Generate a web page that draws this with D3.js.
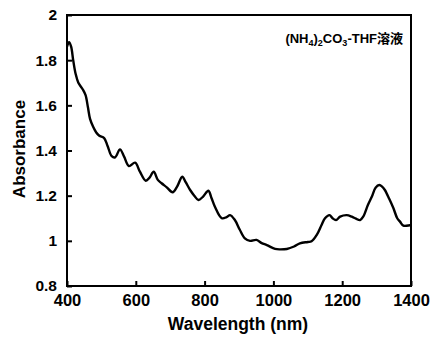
<!DOCTYPE html>
<html><head><meta charset="utf-8">
<script src="https://cdn.jsdelivr.net/npm/d3@7"></script>
<style>body{margin:0;background:#fff}svg{display:block}text{font-family:"Liberation Sans",Arial,sans-serif;font-weight:bold;fill:#000}</style>
</head><body>
<script>
const wavelength = [400,406,412,418,425,433,446,454,461,467,476,485,494,508,518,530,540,554,566,580,598,612,629,640,652,664,675,690,707,720,735,745,758,770,782,795,811,820,830,850,864,874,888,902,917,932,951,966,981,1005,1019,1039,1060,1077,1100,1111,1126,1140,1150,1163,1172,1182,1194,1213,1228,1240,1252,1261,1275,1286,1297,1308,1316,1324,1337,1349,1360,1368,1378,1397,1400];
const absorbance = [1.86,1.88,1.86,1.80,1.74,1.70,1.67,1.645,1.59,1.54,1.505,1.48,1.465,1.455,1.42,1.375,1.37,1.405,1.373,1.331,1.346,1.306,1.266,1.28,1.306,1.27,1.255,1.237,1.215,1.24,1.284,1.26,1.225,1.20,1.181,1.195,1.222,1.19,1.151,1.10,1.105,1.114,1.092,1.05,1.011,1.00,1.004,0.99,0.981,0.964,0.962,0.964,0.975,0.989,0.995,0.998,1.026,1.07,1.10,1.114,1.10,1.092,1.107,1.114,1.107,1.098,1.092,1.107,1.16,1.195,1.235,1.247,1.24,1.225,1.185,1.144,1.10,1.085,1.067,1.069,1.069];
const xTicks = [400,600,800,1000,1200,1400];
const yTicks = [0.8,1,1.2,1.4,1.6,1.8,2];
const xTitle = "Wavelength (nm)";
const yTitle = "Absorbance";

const W = 432, H = 338;
const m = {l:67, r:411, t:15, b:286};
const svg = d3.select("body").append("svg").attr("width", W).attr("height", H);
const x = d3.scaleLinear().domain([400,1400]).range([m.l, m.r]);
const y = d3.scaleLinear().domain([0.8,2]).range([m.b, m.t]);

svg.append("rect").attr("x", m.l).attr("y", m.t).attr("width", m.r-m.l).attr("height", m.b-m.t)
  .attr("fill","none").attr("stroke","#000").attr("stroke-width",2);

const xa = svg.append("g").attr("transform", `translate(0,${m.b})`)
  .call(d3.axisBottom(x).tickValues(xTicks).tickSizeInner(-5).tickSizeOuter(0).tickPadding(10).tickFormat(d3.format("d")));
xa.select(".domain").remove();
xa.selectAll("line").attr("stroke","#000").attr("stroke-width",2);
xa.selectAll("text").attr("font-size",16.5).attr("font-family","Liberation Sans").attr("font-weight","bold").attr("dy",null).attr("y",20);

const ya = svg.append("g").attr("transform", `translate(${m.l},0)`)
  .call(d3.axisLeft(y).tickValues(yTicks).tickSizeInner(-5).tickSizeOuter(0).tickPadding(10).tickFormat(d => d3.format("")(+d.toFixed(1))));
ya.select(".domain").remove();
ya.selectAll("line").attr("stroke","#000").attr("stroke-width",2);
ya.selectAll("text").attr("font-size",15.5).attr("font-family","Liberation Sans").attr("font-weight","bold").attr("x",-10);

const data = wavelength.map((w,i)=>({w, a:absorbance[i]}));
svg.append("path").datum(data)
  .attr("d", d3.line().x(d=>x(d.w)).y(d=>y(d.a)).curve(d3.curveCatmullRom))
  .attr("fill","none").attr("stroke","#000").attr("stroke-width",2.4).attr("stroke-linejoin","round");

svg.append("text").attr("x", 238).attr("y", 330).attr("text-anchor","middle").attr("font-size",17.5).text(xTitle);
svg.append("text").attr("transform","translate(25,149) rotate(-90)").attr("text-anchor","middle").attr("font-size",17).text(yTitle);

const lab = svg.append("text").attr("x", 403).attr("y", 43).attr("text-anchor","end").attr("font-size",13);
lab.append("tspan").text("(NH");
lab.append("tspan").attr("font-size",9).attr("dy",3).text("4");
lab.append("tspan").attr("dy",-3).text(")");
lab.append("tspan").attr("font-size",9).attr("dy",3).text("2");
lab.append("tspan").attr("dy",-3).text("CO");
lab.append("tspan").attr("font-size",9).attr("dy",3).text("3");
lab.append("tspan").attr("dy",-3).text("-THF");
lab.append("tspan").attr("font-family","Noto Sans CJK JP").text("溶液");
</script>
</body></html>
